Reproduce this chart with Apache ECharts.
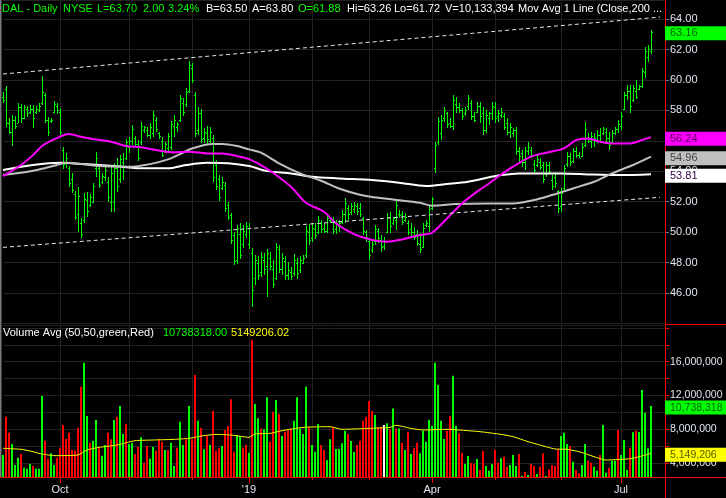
<!DOCTYPE html>
<html><head><meta charset="utf-8">
<script src="https://cdn.jsdelivr.net/npm/echarts@6/dist/echarts.min.js"></script>
<style>html,body{margin:0;padding:0;background:#000}#c{width:726px;height:498px}</style>
</head><body><div id="c"></div>
<script>
// ---------------- DATA ----------------
const highs = [59.23,59.60,57.47,57.69,57.63,58.46,58.39,58.35,58.28,58.33,
58.35,58.28,58.46,60.25,59.12,57.54,57.52,58.61,58.46,58.13,
55.57,55.17,54.34,53.86,52.70,52.98,50.90,52.55,52.67,52.48,
53.20,55.26,54.47,53.90,54.30,53.64,54.30,54.52,54.85,55.06,
55.17,56.12,56.23,57.04,56.31,56.05,57.25,56.97,56.88,57.14,
57.95,57.58,56.60,56.27,55.94,56.53,57.30,57.67,57.25,59.01,
58.79,59.44,61.26,61.13,59.23,58.24,58.06,56.86,56.97,56.93,
56.38,54.74,53.75,53.60,53.31,52.00,51.27,50.03,50.46,50.57,
50.46,50.68,50.57,48.93,48.49,48.43,48.71,48.60,48.87,48.71,
48.17,49.30,49.15,48.60,48.43,48.06,47.73,48.54,48.27,48.43,
48.49,50.40,50.53,50.62,50.62,51.06,50.79,50.57,51.12,51.01,
51.01,50.79,50.79,51.45,52.22,51.78,51.93,52.00,51.89,51.93,
51.01,50.14,49.59,49.48,50.46,50.25,49.81,49.70,51.27,51.34,
51.01,52.11,51.45,51.38,51.23,50.79,50.57,50.35,50.14,49.92,
50.57,50.79,51.78,52.33,55.94,57.58,57.69,58.24,57.91,57.47,
59.01,58.90,58.46,58.13,58.24,59.01,58.68,57.91,58.57,58.57,
58.20,58.02,57.91,58.57,58.57,58.02,58.13,57.80,57.47,57.14,
56.82,56.93,55.61,55.39,55.61,55.94,55.61,54.74,55.06,54.85,
54.63,54.63,54.63,53.75,53.97,52.77,52.87,54.41,55.28,55.17,
55.50,55.61,55.28,55.83,57.25,56.49,56.60,56.49,56.71,56.82,
56.93,56.82,56.60,56.71,56.93,57.36,57.91,59.22,59.66,59.66,
59.66,59.99,59.66,60.76,62.18,62.29,63.26];
const lows = [58.46,56.93,56.42,55.66,56.75,57.14,57.19,57.41,57.58,57.76,
56.86,57.76,57.91,58.35,57.14,56.31,57.19,57.80,57.74,56.38,
54.17,54.19,52.98,52.55,50.79,50.03,49.63,50.62,51.01,51.67,
51.89,53.64,52.92,53.16,53.38,52.00,51.34,51.34,52.67,53.20,
53.42,54.74,55.17,55.72,55.61,54.69,55.72,56.49,56.23,56.09,
56.27,56.60,56.09,54.91,55.17,55.28,55.39,56.27,56.60,57.25,
57.63,58.24,59.16,59.77,56.27,56.38,55.87,55.87,55.72,55.83,
53.31,52.76,52.06,52.76,51.34,50.79,49.22,47.84,47.90,48.21,
48.93,49.59,48.87,45.10,46.52,46.85,47.07,47.18,45.76,47.51,
46.30,46.85,47.29,47.18,46.85,46.85,46.85,47.12,46.90,47.29,
47.90,48.32,49.15,49.37,49.52,49.85,49.92,49.92,49.92,50.62,
49.87,49.87,50.03,50.51,50.57,50.79,51.12,51.23,51.12,51.01,
49.81,49.37,48.17,48.60,49.15,49.30,48.71,48.82,49.92,49.96,
50.46,50.14,50.90,50.46,50.68,49.81,49.70,49.48,49.09,48.65,
48.93,50.35,50.03,51.45,53.90,55.72,56.05,57.25,56.82,56.82,
56.71,57.80,57.80,57.36,57.63,58.02,57.36,57.25,57.80,57.20,
56.38,56.49,57.04,57.36,57.15,57.25,57.47,56.71,56.38,56.16,
56.27,55.06,54.63,54.30,54.08,55.06,54.85,53.86,54.30,54.08,
53.20,53.64,53.86,52.77,52.87,51.27,51.34,52.77,54.30,54.34,
54.56,54.85,54.85,54.96,55.61,55.83,55.50,55.61,55.83,55.83,
56.38,55.94,55.39,55.83,56.38,56.49,56.71,58.02,58.68,57.85,
58.57,58.72,59.34,59.44,60.10,61.20,61.72];
const opens = [58.9,59.4,57.2,56.6,57.4,57.2,58.2,57.5,58.1,57.9,
58.1,57.9,58.0,58.5,59.0,57.4,57.3,57.9,58.3,57.9,
55.4,54.6,54.2,53.5,52.5,51.2,50.6,50.8,52.1,51.8,
52.0,54.2,54.2,53.3,53.6,53.3,52.0,52.0,54.2,53.5,
54.6,54.9,55.6,56.0,56.2,55.8,55.9,56.7,56.7,56.4,
56.5,57.4,56.5,56.0,55.3,55.5,55.6,57.0,56.9,57.4,
58.5,58.4,59.3,60.8,59.0,56.7,57.8,56.2,56.5,56.0,
56.2,54.4,53.5,52.9,53.1,51.8,51.1,49.8,48.2,49.9,
49.2,49.9,49.2,48.6,47.0,48.0,47.4,48.2,47.8,48.3,
47.6,47.0,48.9,47.6,48.1,47.2,47.4,47.3,48.0,47.5,
48.0,48.5,50.0,49.6,50.2,50.0,50.6,50.3,50.1,50.8,
50.8,50.2,50.4,50.7,51.2,51.6,51.3,51.5,51.7,51.6,
50.9,50.0,49.4,48.8,49.4,50.1,49.5,49.1,50.0,51.0,
50.6,50.8,51.2,51.2,50.8,50.6,50.2,50.0,49.9,49.2,
49.0,50.5,50.4,51.6,54.2,55.9,56.5,57.5,57.8,57.2,
57.0,58.4,58.2,58.0,57.8,58.3,58.5,57.6,57.9,58.3,
57.8,56.7,57.5,57.8,58.2,57.6,57.7,57.6,57.2,56.6,
56.5,56.7,55.3,55.2,54.6,55.3,55.4,54.5,54.4,54.6,
54.4,53.8,54.4,53.4,53.6,52.7,51.7,52.9,54.5,55.0,
54.7,55.3,55.1,55.0,55.7,56.2,56.0,56.1,56.0,56.4,
56.5,56.6,56.2,55.9,56.5,56.8,57.0,58.1,59.0,59.3,
58.7,59.3,59.4,59.6,60.5,61.5,61.88];
const closes = [58.7,57.2,56.6,57.4,57.0,58.2,57.5,58.2,57.8,58.1,
57.5,58.1,58.3,59.2,57.4,56.6,57.4,58.4,58.0,56.6,
54.5,54.9,53.2,52.8,51.0,52.4,49.9,52.2,51.4,52.3,
53.0,54.9,53.1,53.7,54.1,52.3,53.9,54.2,53.0,54.8,
54.0,55.9,56.0,56.8,55.8,54.9,57.0,56.9,56.4,56.9,
57.7,56.8,56.3,55.1,55.8,56.3,57.1,57.4,57.1,58.8,
57.9,59.2,61.0,60.0,56.5,57.8,56.1,56.6,56.1,56.6,
53.6,53.0,52.3,53.3,51.6,51.0,49.5,48.1,50.3,48.5,
50.1,50.4,50.3,46.2,48.2,47.2,48.4,47.6,48.6,47.8,
46.6,49.0,47.6,48.3,47.2,47.5,47.1,48.2,47.3,48.2,
48.3,50.1,49.5,50.3,49.8,50.8,50.2,50.1,50.9,50.7,
50.1,50.6,50.6,51.2,51.9,51.2,51.7,51.8,51.4,51.2,
50.1,49.6,48.5,49.2,50.2,49.6,49.0,49.4,51.0,50.4,
50.9,51.8,51.1,50.7,51.0,50.0,50.0,49.7,49.3,48.9,
50.3,50.6,51.5,52.2,55.7,57.3,57.4,58.0,57.1,57.0,
58.7,58.2,58.0,57.6,58.0,58.8,57.6,57.4,58.3,57.6,
56.7,57.7,57.8,58.3,57.5,57.8,57.9,56.9,56.6,56.9,
56.7,55.3,55.0,54.6,55.4,55.6,55.1,54.1,54.8,54.3,
53.5,54.4,54.0,53.0,53.2,51.6,52.6,54.2,55.0,54.6,
55.3,55.1,54.9,55.6,56.8,56.0,56.3,56.2,56.4,56.0,
56.8,56.2,55.7,56.5,56.8,57.1,57.6,59.0,59.3,58.3,
59.5,58.9,59.6,60.6,61.9,62.0,63.16];
// volume in millions
const volumes = [4.95,9.49,7.59,6.25,3.76,4.63,5.06,3.44,3.33,3.88,
3.64,3.33,3.33,11.94,6.64,4.51,5.14,3.76,4.63,5.81,
8.50,6.88,7.59,5.54,5.46,8.18,13.04,15.89,9.57,6.41,
6.64,9.09,5.74,4.87,6.13,7.59,6.80,9.09,9.49,10.75,
7.43,8.62,6.25,6.41,5.06,5.93,7.04,4.04,6.01,4.51,
5.93,5.46,6.84,6.53,5.54,5.54,6.41,3.64,5.81,8.90,
6.13,6.80,10.75,6.80,14.42,9.01,8.18,5.62,7.24,6.13,
10.16,5.46,5.74,6.01,7.91,8.38,11.54,5.34,7.31,7.12,
5.81,6.13,5.22,18.60,10.99,9.29,8.10,7.99,11.78,6.53,
10.08,11.46,9.80,7.20,7.71,7.99,8.10,9.01,11.78,8.10,
7.43,13.04,8.22,6.13,5.34,8.62,6.13,5.54,4.35,6.80,
8.22,5.66,5.66,6.33,7.83,7.43,6.60,5.30,6.13,6.64,
9.01,9.49,11.34,10.20,9.69,8.22,8.30,8.50,8.70,7.99,
10.47,8.10,8.10,6.41,5.54,7.71,5.06,5.74,6.41,5.14,
7.83,6.53,9.09,8.38,15.89,13.24,9.01,6.84,7.83,9.57,
14.34,8.38,7.51,5.18,3.88,4.83,4.00,3.92,4.47,3.17,
5.42,3.64,3.09,3.88,5.54,4.04,4.55,4.75,3.56,3.76,
4.95,3.64,5.06,2.46,2.93,2.58,3.88,3.64,2.69,3.56,
5.14,2.46,3.25,3.76,3.64,5.62,7.20,7.59,6.25,6.01,
4.16,3.17,2.77,3.76,6.25,4.27,4.04,3.56,3.09,4.95,
8.50,2.85,3.44,4.27,4.27,7.91,4.95,6.72,3.17,5.81,
7.63,7.83,7.67,12.65,9.96,5.74,10.738318];
// g = up (green), r = down (red), w = unchanged (white)
const volumeDirections = 'grrgggrggg' + 'rgggrrggrr' + 'rrrrrrrggr' + 'ggrggrrgrg' + 'grggrrgrrg' +
  'grrrgrggrg' + 'grgrrgrgrg' + 'rrrgrrrrgg' + 'rrgrggrggr' + 'rgrgrrrggg' +
  'ggrgggrrgg' + 'rggggrggrr' + 'rrrrgrrwgr' + 'grgrgrgrrg' + 'ggggggggrr' +
  'ggrrggrrgr' + 'rgggrrgrrg' + 'ggrgrgrrgr' + 'rgrrrrgggr' + 'grrggrrggr' +
  'ggrggrgggr' + 'grggggg';
// moving averages read at sample bars: [barIndex, value]
const ma50 = [[0,53.68],[6,54.41],[10,55.06],[13,55.66],[17,56.09],[22,56.44],[26,56.27],[30,56.12],[36,55.94],[41,55.66],[46,55.57],[51,55.39],[57,55.24],[62,55.28],[68,55.17],[73,55.17],[78,55.00],[82,54.80],[86,54.41],[90,53.90],[96,52.98],[101,51.93],[107,51.34],[111,50.57],[117,49.87],[123,49.48],[128,49.37],[133,49.52],[139,49.81],[143,49.96],[148,50.90],[153,51.89],[158,52.66],[162,53.20],[165,53.64],[170,54.30],[176,54.96],[181,55.22],[187,55.50],[191,56.05],[195,56.16],[199,55.94],[203,55.83],[209,55.83],[213,56.05],[216,56.24]];
const ma100 = [[0,53.75],[10,54.03],[18,54.41],[21,54.56],[32,54.34],[42,54.30],[49,54.47],[55,54.78],[59,55.13],[63,55.50],[70,55.79],[73,55.79],[78,55.66],[82,55.44],[86,55.22],[92,54.52],[99,53.86],[106,53.38],[112,52.87],[121,52.37],[130,52.15],[139,51.93],[143,51.74],[151,51.85],[162,51.89],[170,51.89],[177,52.11],[183,52.44],[190,52.87],[197,53.31],[203,53.86],[210,54.41],[216,54.96]];
const ma200 = [[0,54.08],[10,54.41],[19,54.56],[27,54.47],[37,54.34],[46,54.19],[55,54.19],[61,54.41],[68,54.56],[75,54.52],[82,54.34],[88,54.01],[96,53.86],[103,53.64],[112,53.53],[123,53.42],[132,53.25],[141,53.03],[148,53.16],[155,53.31],[162,53.60],[166,53.75],[172,53.86],[186,53.86],[196,53.79],[206,53.75],[216,53.81]];
const volAvg50 = [[0,5.74],[6,5.62],[10,5.34],[12,5.14],[17,4.87],[25,4.95],[28,5.54],[32,5.85],[38,6.13],[44,6.64],[50,6.72],[57,6.80],[62,6.92],[67,7.24],[71,7.39],[76,7.31],[80,7.12],[82,7.04],[84,7.43],[89,7.51],[93,7.83],[100,8.22],[109,8.30],[113,7.99],[122,8.10],[129,8.22],[131,8.46],[136,8.10],[140,7.91],[148,7.99],[152,7.91],[159,7.71],[166,7.39],[170,7.12],[175,6.53],[179,6.13],[184,5.66],[188,5.62],[192,5.34],[197,4.75],[201,4.35],[206,4.43],[210,4.55],[216,5.149206]];
const upperTrend = [[0,60.39],[219,64.13]];
const lowerTrend = [[0,49.00],[219,52.29]];
const holidays = ['2018-11-22','2018-12-05','2018-12-25','2019-01-01','2019-01-21','2019-02-18','2019-04-19','2019-05-27','2019-07-04'];
const quarterLabels = {'10':'Oct','01':"'19",'04':'Apr','07':'Jul'};
const headerTexts = ['DAL - Daily','NYSE','L=63.70','2.00','3.24%','B=63.50','A=63.80','O=61.88','Hi=63.26','Lo=61.72','V=10,133,394','Mov Avg 1 Line (Close,200','...'];
const headerGreen = [true,true,true,true,true,false,false,true,false,false,false,false,false];
const volHeader = ['Volume Avg (50,50,green,Red)','10738318.00','5149206.02'];
const lastTags = [
  {axis:0, value:63.16, text:'63.16', bg:'#00ff00', fg:'#006400'},
  {axis:0, value:56.24, text:'56.24', bg:'#ff00ff', fg:'#5a005a'},
  {axis:0, value:54.96, text:'54.96', bg:'#c0c0c0', fg:'#404040'},
  {axis:0, value:53.81, text:'53.81', bg:'#ffffff', fg:'#2a0040'},
  {axis:1, value:10.738318, text:'10,738,318', bg:'#00ff00', fg:'#006400'},
  {axis:1, value:5.149206, text:'5,149,206', bg:'#ffff00', fg:'#5a5a00'}
];

// ---------------- BUILD ----------------
const N = highs.length;
const dates = [];
let d = new Date(Date.UTC(2018, 8, 4));
while (dates.length < N) {
  const wd = d.getUTCDay();
  const s = d.toISOString().slice(0, 10);
  if (wd !== 0 && wd !== 6 && holidays.indexOf(s) < 0) dates.push(s);
  d = new Date(d.getTime() + 86400000);
}
const categories = dates.concat(['p1','p2','p3','p4','p5']);
const monthStart = new Set(), quarterStart = new Set();
for (let i = 1; i < N; i++) {
  const m = dates[i].slice(5, 7);
  if (m !== dates[i - 1].slice(5, 7)) {
    monthStart.add(i);
    if (quarterLabels[m]) quarterStart.add(i);
  }
}
const monthFn = (i) => monthStart.has(i);
const quarterFn = (i) => quarterStart.has(i);

const ohlcData = highs.map((h, i) => [i, opens[i], h, lows[i], closes[i]]);
const volData = volumes.map((v, i) => [i, v]);
const VOL_MIN = 2.34, VOL_MAX = 20.35;
const dirColor = {g:'#00ff00', r:'#ff0000', w:'#ffffff'};

const GRID = '#222222';
const LABEL = '#dfe6f2';
const FONT = 'Arial, "Liberation Sans", sans-serif';

function renderOHLC(params, api) {
  const i = api.value(0);
  const pH = api.coord([i, api.value(2)]);
  const pL = api.coord([i, api.value(3)]);
  const pO = api.coord([i, api.value(1)]);
  const pC = api.coord([i, api.value(4)]);
  const x = Math.round(pH[0]);
  const yH = Math.round(pH[1]), yL = Math.round(pL[1]);
  const style = {fill: '#00ff00'};
  return {type: 'group', children: [
    {type: 'rect', shape: {x: x, y: yH, width: 1, height: Math.max(1, yL - yH)}, style: style},
    {type: 'rect', shape: {x: x - 1, y: Math.round(pO[1]), width: 1, height: 1}, style: style},
    {type: 'rect', shape: {x: x + 1, y: Math.round(pC[1]), width: 1, height: 1}, style: style}
  ]};
}
function renderVol(params, api) {
  const i = api.value(0);
  const top = api.coord([i, api.value(1)]);
  const base = api.coord([i, VOL_MIN]);
  const x = Math.round(top[0]);
  return {type: 'rect', shape: {x: x - 1, y: top[1], width: 2, height: base[1] - top[1]},
          style: {fill: dirColor[volumeDirections[i]]}};
}
function fmtVol(v) {
  const r = Math.round(v);
  if (Math.abs(v - r) < 1e-6 && r % 4 === 0 && r < 20 && r > 0) return (r * 1e6).toLocaleString('en-US');
  return '';
}

const chart = echarts.init(document.getElementById('c'), null, {renderer: 'canvas'});
const lineBase = {type: 'line', showSymbol: false, symbol: 'none', silent: true, animation: false};
chart.setOption({
  backgroundColor: '#000',
  animation: false,
  grid: [
    {left: 3, right: 60, top: 0, height: 323.5},
    {left: 3, right: 60, top: 325, height: 152}
  ],
  xAxis: [
    {type: 'category', gridIndex: 0, data: categories, boundaryGap: false,
     axisLine: {show: false}, axisTick: {show: false}, axisLabel: {show: false},
     splitLine: {show: true, interval: monthFn, lineStyle: {color: GRID, width: 1}}},
    {type: 'category', gridIndex: 1, data: categories, boundaryGap: false, position: 'bottom',
     axisLine: {show: false},
     axisTick: {show: true, interval: quarterFn, length: 6, lineStyle: {color: '#ff0000'}},
     axisLabel: {show: true, interval: quarterFn, color: LABEL, fontSize: 11, fontFamily: FONT, margin: 7,
                 formatter: (v, i) => quarterLabels[dates[i] ? dates[i].slice(5, 7) : ''] || ''},
     splitLine: {show: true, interval: monthFn, lineStyle: {color: GRID, width: 1}}},
    {type: 'category', gridIndex: 1, data: categories, boundaryGap: false, position: 'bottom',
     axisLine: {show: false},
     axisTick: {show: true, interval: monthFn, length: 3, lineStyle: {color: '#ff0000'}},
     axisLabel: {show: false}, splitLine: {show: false}}
  ],
  yAxis: [
    {type: 'value', gridIndex: 0, position: 'right', min: 44, max: 65.25, interval: 2,
     axisLine: {show: false},
     axisTick: {show: true, length: 3, lineStyle: {color: '#5a7fa8'}},
     axisLabel: {color: LABEL, fontSize: 11, fontFamily: FONT, margin: 4, showMinLabel: false, showMaxLabel: false,
                 formatter: (v) => v.toFixed(2)},
     splitLine: {show: true, lineStyle: {color: GRID, width: 1}}},
    {type: 'value', gridIndex: 1, position: 'right', min: VOL_MIN, max: VOL_MAX, splitNumber: 9,
     axisLine: {show: false},
     axisTick: {show: true, length: 3, lineStyle: {color: '#ff0000'}},
     axisLabel: {color: LABEL, fontSize: 10.5, fontFamily: FONT, margin: 4, showMinLabel: false, showMaxLabel: false,
                 formatter: fmtVol},
     splitLine: {show: true, lineStyle: {color: GRID, width: 1}}}
  ],
  series: [
    {type: 'custom', name: 'DAL', xAxisIndex: 0, yAxisIndex: 0, renderItem: renderOHLC, data: ohlcData,
     encode: {x: 0, y: [1, 2, 3, 4]}, z: 2, silent: true},
    Object.assign({}, lineBase, {xAxisIndex: 0, yAxisIndex: 0, data: ma200, smooth: 0.3, z: 3,
     lineStyle: {color: '#ffffff', width: 2}}),
    Object.assign({}, lineBase, {xAxisIndex: 0, yAxisIndex: 0, data: ma100, smooth: 0.3, z: 4,
     lineStyle: {color: '#c0c0c0', width: 2}}),
    Object.assign({}, lineBase, {xAxisIndex: 0, yAxisIndex: 0, data: ma50, smooth: 0.3, z: 5,
     lineStyle: {color: '#ff00ff', width: 2}}),
    Object.assign({}, lineBase, {xAxisIndex: 0, yAxisIndex: 0, data: upperTrend, z: 6,
     lineStyle: {color: '#e8e8e8', width: 1, type: [4, 3]}}),
    Object.assign({}, lineBase, {xAxisIndex: 0, yAxisIndex: 0, data: lowerTrend, z: 6,
     lineStyle: {color: '#e8e8e8', width: 1, type: [4, 3]}}),
    {type: 'custom', name: 'Volume', xAxisIndex: 1, yAxisIndex: 1, renderItem: renderVol, data: volData,
     encode: {x: 0, y: 1}, z: 2, silent: true},
    Object.assign({}, lineBase, {xAxisIndex: 1, yAxisIndex: 1, data: volAvg50, smooth: 0.2, z: 5,
     lineStyle: {color: '#ffff00', width: 1}})
  ]
});

// overlays: borders, header texts, last-value tags
const hdrX = [2, 63, 97, 143, 168, 206, 252, 298, 347, 394, 445, 518, 653];
const volHdrX = [3, 163, 231];
const volHdrColor = ['#ffffff', '#00ff00', '#ffff00'];
const graphics = [
  {type: 'rect', shape: {x: 0, y: 0, width: 1.5, height: 478}, style: {fill: '#7a7a7a'}, z: 100},
  {type: 'line', shape: {x1: 665.5, y1: 0, x2: 665.5, y2: 498}, style: {stroke: '#ff0000', lineWidth: 1}, z: 100},
  {type: 'line', shape: {x1: 0, y1: 477.5, x2: 726, y2: 477.5}, style: {stroke: '#ff0000', lineWidth: 1}, z: 100},
  {type: 'line', shape: {x1: 665, y1: 324.5, x2: 726, y2: 324.5}, style: {stroke: '#ff0000', lineWidth: 1}, z: 100}
];
headerTexts.forEach((t, k) => {
  graphics.push({type: 'text', x: hdrX[k], y: 9, z: 100,
    style: {text: t, fill: headerGreen[k] ? '#00ff00' : '#ffffff', font: '11px ' + FONT, verticalAlign: 'middle'}});
});
volHeader.forEach((t, k) => {
  graphics.push({type: 'text', x: volHdrX[k], y: 333, z: 100,
    style: {text: t, fill: volHdrColor[k], font: '11px ' + FONT, verticalAlign: 'middle'}});
});
lastTags.forEach((tag) => {
  const y = chart.convertToPixel({yAxisIndex: tag.axis}, tag.value) + 1.5;
  graphics.push({type: 'rect', shape: {x: 665, y: y - 7, width: 61, height: 14}, style: {fill: tag.bg}, z: 101});
  graphics.push({type: 'text', x: 670, y: y, z: 102,
    style: {text: tag.text, fill: tag.fg, font: (tag.axis ? '10.5px ' : '11px ') + FONT, verticalAlign: 'middle'}});
});
chart.setOption({graphic: graphics});
</script>
</body></html>
